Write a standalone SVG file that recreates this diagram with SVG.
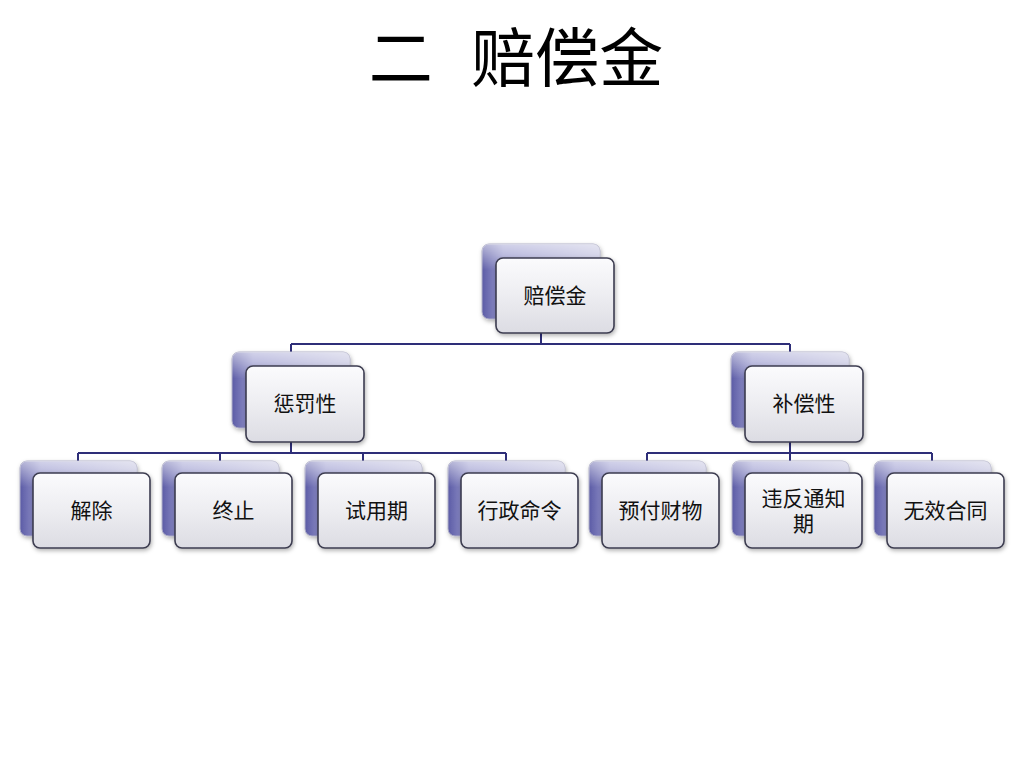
<svg xmlns="http://www.w3.org/2000/svg" width="1024" height="768" viewBox="0 0 1024 768">
<defs>
<linearGradient id="frontG" x1="0" y1="0" x2="0" y2="1">
<stop offset="0" stop-color="#fbfbfd"/>
<stop offset="0.5" stop-color="#ededf1"/>
<stop offset="1" stop-color="#dcdce3"/>
</linearGradient>
<linearGradient id="backG" x1="0" y1="0" x2="1" y2="0">
<stop offset="0" stop-color="#5c5ca6"/>
<stop offset="0.18" stop-color="#9c9cd0"/>
<stop offset="1" stop-color="#c4c4e0"/>
</linearGradient>
<linearGradient id="backHi" x1="0" y1="0" x2="0" y2="1">
<stop offset="0" stop-color="#ffffff" stop-opacity="0.55"/>
<stop offset="0.35" stop-color="#ffffff" stop-opacity="0"/>
</linearGradient>
<filter id="sh" x="-20%" y="-20%" width="140%" height="140%">
<feDropShadow dx="1" dy="2" stdDeviation="2" flood-color="#000" flood-opacity="0.3"/>
</filter>
</defs>
<style>
.back{fill:url(#backG);stroke:#b0b0c8;stroke-width:1;filter:url(#sh)}
.backhi{fill:url(#backHi);stroke:none}
.front{fill:url(#frontG);stroke:#3c3c50;stroke-width:1.6;filter:url(#sh)}
.lbl{font-family:"Noto Sans CJK SC","Noto Sans CJK TC",sans-serif;font-size:21px;fill:#111;text-anchor:middle}
.conn{fill:none;stroke:#2e2e78;stroke-width:2}
.title{font-family:"Noto Sans CJK SC",sans-serif;font-size:64px;fill:#000;text-anchor:middle}
</style>
<rect width="1024" height="768" fill="#fff"/>
<text class="title" x="516" y="81" xml:space="preserve" word-spacing="5">二  赔偿金</text>
<g id="connectors">
<path class="conn" d="M541,333 V344 M291,344 H790 M291,344 V353 M790,344 V353"/>
<path class="conn" d="M291,442 V453 M78,453 H506 M78,453 V462 M220,453 V462 M363,453 V462 M506,453 V462"/>
<path class="conn" d="M790,442 V453 M647,453 H932 M647,453 V462 M790,453 V462 M932,453 V462"/>
</g>
<g id="n-root">
<rect class="back" x="482" y="244" width="118" height="75" rx="7"/>
<rect class="backhi" x="482" y="244" width="118" height="75" rx="7"/>
<rect class="front" x="496" y="258" width="118" height="75" rx="7"/>
<text class="lbl" x="555" y="303">赔偿金</text>
</g>
<g id="n-punitive">
<rect class="back" x="232" y="352" width="118" height="76" rx="7"/>
<rect class="backhi" x="232" y="352" width="118" height="76" rx="7"/>
<rect class="front" x="246" y="366" width="118" height="76" rx="7"/>
<text class="lbl" x="305" y="411">惩罚性</text>
</g>
<g id="n-compensatory">
<rect class="back" x="731" y="352" width="118" height="76" rx="7"/>
<rect class="backhi" x="731" y="352" width="118" height="76" rx="7"/>
<rect class="front" x="745" y="366" width="118" height="76" rx="7"/>
<text class="lbl" x="804" y="411">补偿性</text>
</g>
<g id="n-jiechu">
<rect class="back" x="20" y="461" width="117" height="75" rx="7"/>
<rect class="backhi" x="20" y="461" width="117" height="75" rx="7"/>
<rect class="front" x="33" y="473" width="117" height="75" rx="7"/>
<text class="lbl" x="91.5" y="518">解除</text>
</g>
<g id="n-zhongzhi">
<rect class="back" x="162" y="461" width="117" height="75" rx="7"/>
<rect class="backhi" x="162" y="461" width="117" height="75" rx="7"/>
<rect class="front" x="175" y="473" width="117" height="75" rx="7"/>
<text class="lbl" x="233.5" y="518">终止</text>
</g>
<g id="n-shiyongqi">
<rect class="back" x="305" y="461" width="117" height="75" rx="7"/>
<rect class="backhi" x="305" y="461" width="117" height="75" rx="7"/>
<rect class="front" x="318" y="473" width="117" height="75" rx="7"/>
<text class="lbl" x="376.5" y="518">试用期</text>
</g>
<g id="n-xingzheng">
<rect class="back" x="448" y="461" width="117" height="75" rx="7"/>
<rect class="backhi" x="448" y="461" width="117" height="75" rx="7"/>
<rect class="front" x="461" y="473" width="117" height="75" rx="7"/>
<text class="lbl" x="519.5" y="518">行政命令</text>
</g>
<g id="n-yufu">
<rect class="back" x="589" y="461" width="117" height="75" rx="7"/>
<rect class="backhi" x="589" y="461" width="117" height="75" rx="7"/>
<rect class="front" x="602" y="473" width="117" height="75" rx="7"/>
<text class="lbl" x="660.5" y="518">预付财物</text>
</g>
<g id="n-weifan">
<rect class="back" x="732" y="461" width="117" height="75" rx="7"/>
<rect class="backhi" x="732" y="461" width="117" height="75" rx="7"/>
<rect class="front" x="745" y="473" width="117" height="75" rx="7"/>
<text class="lbl" x="803.5" y="505.5"><tspan x="803.5" y="505.5">违反通知</tspan><tspan x="803.5" y="530.5">期</tspan></text>
</g>
<g id="n-wuxiao">
<rect class="back" x="874" y="461" width="117" height="75" rx="7"/>
<rect class="backhi" x="874" y="461" width="117" height="75" rx="7"/>
<rect class="front" x="887" y="473" width="117" height="75" rx="7"/>
<text class="lbl" x="945.5" y="518">无效合同</text>
</g>
</svg>
